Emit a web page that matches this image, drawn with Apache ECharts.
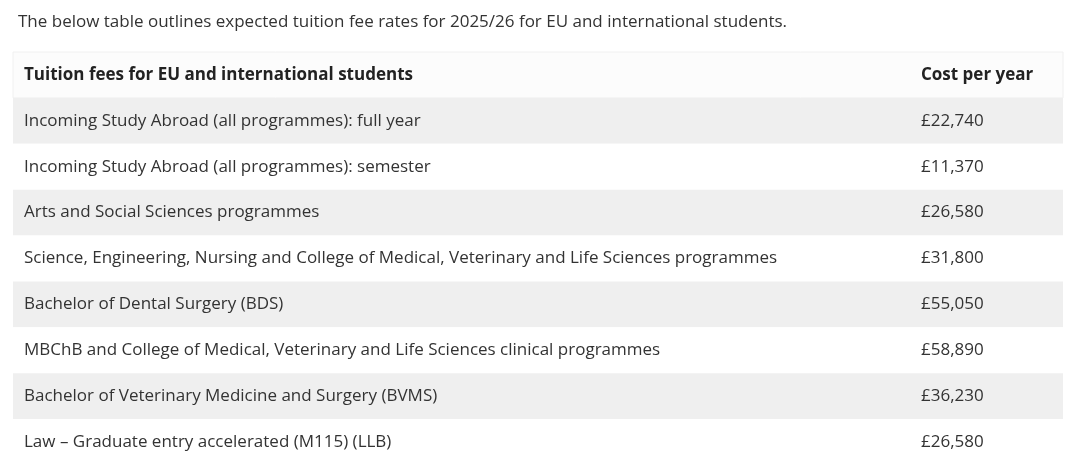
<!DOCTYPE html>
<html>
<head>
<meta charset="utf-8">
<script src="https://cdn.jsdelivr.net/npm/echarts@6/dist/echarts.min.js"></script>
<style>
  html, body { margin: 0; padding: 0; background: #fff; }
  #chart { width: 1080px; height: 473px; }
</style>
</head>
<body>
<div id="chart"></div>
<script>
const caption = "The below table outlines expected tuition fee rates for 2025/26 for EU and international students.";
const headers = ["Tuition fees for EU and international students", "Cost per year"];
const programmes = [
  "Incoming Study Abroad (all programmes): full year",
  "Incoming Study Abroad (all programmes): semester",
  "Arts and Social Sciences programmes",
  "Science, Engineering, Nursing and College of Medical, Veterinary and Life Sciences programmes",
  "Bachelor of Dental Surgery (BDS)",
  "MBChB and College of Medical, Veterinary and Life Sciences clinical programmes",
  "Bachelor of Veterinary Medicine and Surgery (BVMS)",
  "Law – Graduate entry accelerated (M115) (LLB)"
];
const costs = ["£22,740", "£11,370", "£26,580", "£31,800", "£55,050", "£58,890", "£36,230", "£26,580"];

const rows = [headers].concat(programmes.map((p, i) => [p, costs[i]]));
const font = "'Open Sans', 'Noto Sans', sans-serif";

const chart = echarts.init(document.getElementById("chart"));
chart.setOption({
  animation: false,
  title: {
    text: caption, left: 13, top: 9,
    textStyle: { fontFamily: font, fontSize: 17, fontWeight: "normal", color: "#333" }
  },
  grid: { left: 13, right: 17, top: 52, bottom: 8 },
  xAxis: { type: "value", min: 0, max: 1, show: false },
  yAxis: { type: "category", inverse: true, show: false, data: rows.map((r, i) => i) },
  series: [{
    type: "custom",
    data: rows.map((r, i) => [0, i, r[0], r[1]]),
    encode: { x: 0, y: 1 },
    renderItem: function (params, api) {
      const idx = api.value(1);
      const c = api.coord([0, idx]);
      const h = api.size([0, 1])[1];
      const w = params.coordSys.width;
      const x0 = params.coordSys.x;
      const header = idx === 0;
      const bg = header ? "#fcfcfc" : (idx % 2 === 1 ? "#efefef" : "#ffffff");
      const r = rows[idx];
      const ts = {
        fontFamily: font, fontSize: 17,
        fontWeight: header ? "bold" : "normal",
        fill: header ? "#222" : "#333",
        verticalAlign: "middle"
      };
      return {
        type: "group",
        children: [
          { type: "rect", shape: { x: x0, y: c[1] - h / 2, width: w, height: h },
            style: { fill: bg, stroke: header ? "#f0f0f0" : null, lineWidth: 1 } },
          { type: "text", x: x0 + 11, y: c[1], style: Object.assign({ text: r[0] }, ts) },
          { type: "text", x: x0 + 908, y: c[1], style: Object.assign({ text: r[1] }, ts) }
        ]
      };
    }
  }]
});
</script>
</body>
</html>
